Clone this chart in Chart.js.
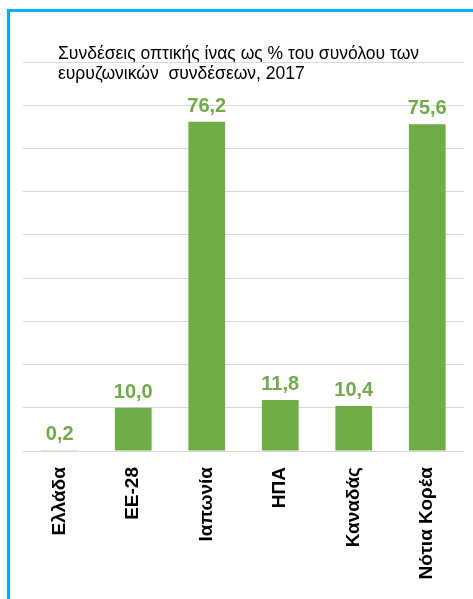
<!DOCTYPE html>
<html>
<head>
<meta charset="utf-8">
<script src="https://cdn.jsdelivr.net/npm/chart.js@4/dist/chart.umd.min.js"></script>
<style>
  html, body { margin: 0; padding: 0; background: #fff; overflow: hidden; }
  .frame {
    position: absolute; left: 7px; top: 9px;
    width: 600px; height: 700px;
    border: 3px solid #00B0F0; box-sizing: border-box;
  }
  .wrap { position: absolute; left: 0; top: 0; width: 473px; height: 599px; }
</style>
</head>
<body>
<div class="frame"></div>
<div class="wrap"><canvas id="myChart" width="473" height="599"></canvas></div>
<script>
const categories = ['Ελλάδα', 'ΕΕ-28', 'Ιαπωνία', 'ΗΠΑ', 'Καναδάς', 'Νότια Κορέα'];
const fibreShare = [0.2, 10.0, 76.2, 11.8, 10.4, 75.6];
const titleLines = ['Συνδέσεις οπτικής ίνας ως % του συνόλου των', 'ευρυζωνικών  συνδέσεων, 2017'];

const green = '#70AD47';

// numbers above the bars, greek style decimal comma
const valueLabels = {
    id: 'valueLabels',
    afterDatasetsDraw(chart) {
        const ctx = chart.ctx;
        const meta = chart.getDatasetMeta(0);
        ctx.save();
        ctx.fillStyle = green;
        ctx.font = 'bold 20px "Liberation Sans", Arial, sans-serif';
        ctx.textAlign = 'center';
        ctx.textBaseline = 'alphabetic';
        meta.data.forEach((bar, i) => {
            const txt = fibreShare[i].toFixed(1).replace('.', ',');
            ctx.fillText(txt, bar.x, bar.y - 10);
        });
        ctx.restore();
    }
};

// title sits over the top gridline, so draw it by hand
const overTitle = {
    id: 'overTitle',
    afterDraw(chart) {
        const ctx = chart.ctx;
        ctx.save();
        ctx.fillStyle = '#000';
        ctx.font = '17.5px "Liberation Sans", Arial, sans-serif';
        ctx.textAlign = 'left';
        ctx.textBaseline = 'alphabetic';
        titleLines.forEach((line, i) => {
            ctx.fillText(line, 58, 59 + i * 20);
        });
        ctx.restore();
    }
};

const ctx = document.getElementById('myChart').getContext('2d');
new Chart(ctx, {
    type: 'bar',
    data: {
        labels: categories,
        datasets: [{
            data: fibreShare,
            backgroundColor: green,
            borderWidth: 0,
            barPercentage: 0.5,
            categoryPercentage: 1.0
        }]
    },
    options: {
        responsive: false,
        animation: false,
        layout: { padding: { top: 62, left: 23, right: 9, bottom: 0 } },
        plugins: {
            legend: { display: false },
            tooltip: { enabled: false },
            title: { display: false }
        },
        scales: {
            x: {
                grid: { display: false },
                border: { display: false },
                ticks: {
                    color: '#000',
                    font: { family: '"Liberation Sans", Arial, sans-serif', size: 19, weight: 'bold' },
                    minRotation: 90,
                    maxRotation: 90,
                    padding: 8
                },
                afterFit: s => { s.height = 148; }
            },
            y: {
                min: 0,
                max: 90,
                ticks: { display: false, stepSize: 10 },
                grid: { color: '#D9D9D9', lineWidth: 1, drawTicks: false },
                border: { display: false },
                afterFit: s => { s.width = 0; }
            }
        }
    },
    plugins: [valueLabels, overTitle]
});
</script>
</body>
</html>
